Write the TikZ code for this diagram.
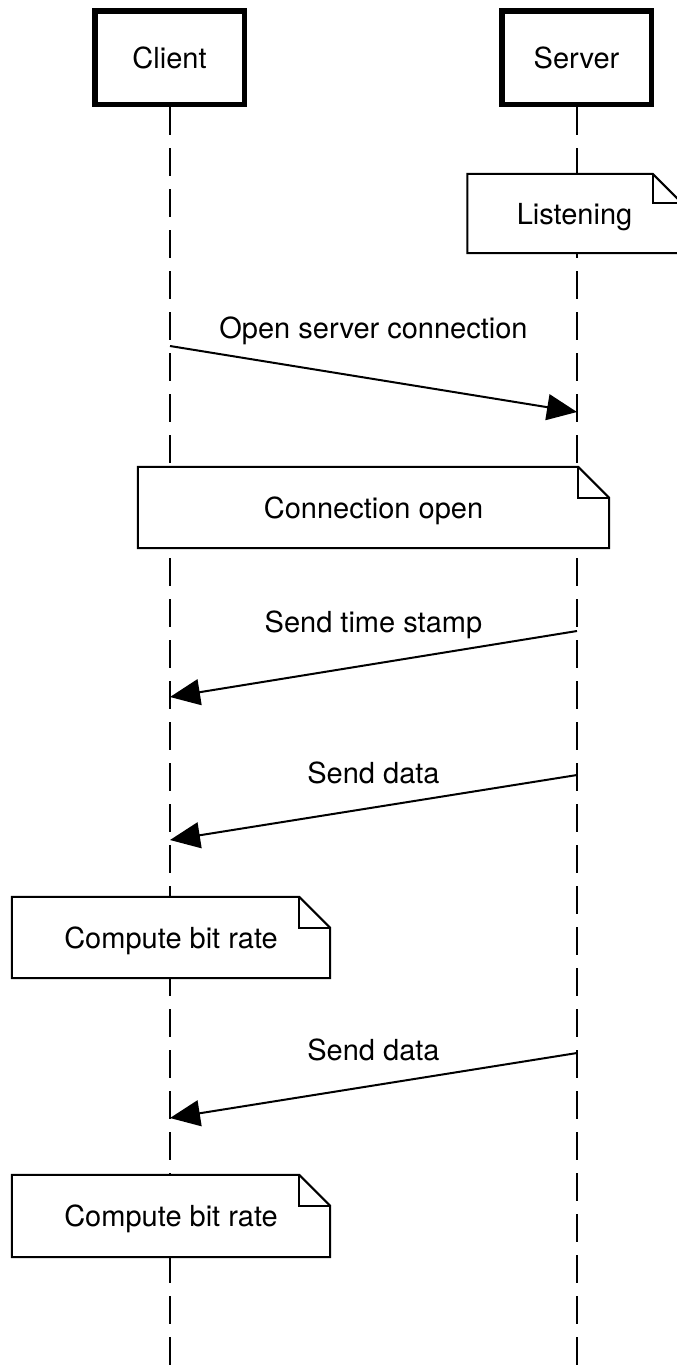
\documentclass[tikz,border=0pt]{standalone}
\usepackage{fontspec}
\setmainfont{TeX Gyre Heros}
\usetikzlibrary{arrows.meta}

% folded-corner outline drawn around a note node
\newcommand\foldednote[2]{%
  \draw[noteline] (#1.south west) -- (#1.north west)
    -- ([xshift=-#2]#1.north east) -- ([yshift=-#2]#1.north east)
    -- (#1.south east) -- cycle;
  \draw[noteline] ([xshift=-#2]#1.north east) |- ([yshift=-#2]#1.north east);}

\begin{document}
\begin{tikzpicture}[x=1pt,y=-1pt,
  every node/.style={font=\fontsize{29}{34}\selectfont, text height=21pt, text depth=0pt},
  headbox/.style={draw, line width=5.5pt, fill=white, minimum width=149.5pt, minimum height=93.5pt, inner sep=0pt},
  notebox/.style={fill=white, inner sep=0pt},
  noteline/.style={line width=2pt, line join=miter},
  lifeline/.style={line width=2pt, dash pattern=on 28pt off 13pt},
  msg/.style={line width=2pt, -{Triangle[length=30pt,width=26pt]}},
  msglabel/.style={anchor=base, text height=, text depth=}
]
% canvas
\fill[white] (0,0) rectangle (677,1365);
\useasboundingbox (0,0) rectangle (677,1365);

% participants
\node[headbox] (client) at (169.5,57.5) {Client};
\node[headbox] (server) at (576.5,57.5) {Server};

% lifelines
\coordinate (clientend) at (170,1365);
\coordinate (serverend) at (577,1365);
\draw[lifeline] (client.south -| clientend) -- (clientend);
\draw[lifeline] (server.south -| serverend) -- (serverend);

% notes
\node[notebox, minimum width=214pt, minimum height=79pt] (listen) at (574.5,213.5) {Listening};
\foldednote{listen}{29pt}
\node[notebox, minimum width=471pt, minimum height=81pt] (open) at (373.5,507.5) {Connection open};
\foldednote{open}{31pt}
\node[notebox, minimum width=318pt, minimum height=81pt] (rate1) at (171,937.5) {Compute bit rate};
\foldednote{rate1}{31pt}
\node[notebox, minimum width=318pt, minimum height=82pt] (rate2) at (171,1216) {Compute bit rate};
\foldednote{rate2}{31pt}

% message end points on the lifelines
\coordinate (m1s) at (170,346);  \coordinate (m1e) at (577,412);
\coordinate (m2s) at (577,631);  \coordinate (m2e) at (170,697);
\coordinate (m3s) at (577,775);  \coordinate (m3e) at (170,840);
\coordinate (m4s) at (577,1053); \coordinate (m4e) at (170,1118);

% messages
\draw[msg] (m1s) -- (m1e);
\node[msglabel] (l1) at (373.5,338) {Open server connection};
\draw[msg] (m2s) -- (m2e);
\node[msglabel] (l2) at (373.5,632) {Send time stamp};
\draw[msg] (m3s) -- (m3e);
\node[msglabel] (l3) at (373.5,783) {Send data};
\draw[msg] (m4s) -- (m4e);
\node[msglabel] (l4) at (373.5,1060) {Send data};
\end{tikzpicture}
\end{document}
